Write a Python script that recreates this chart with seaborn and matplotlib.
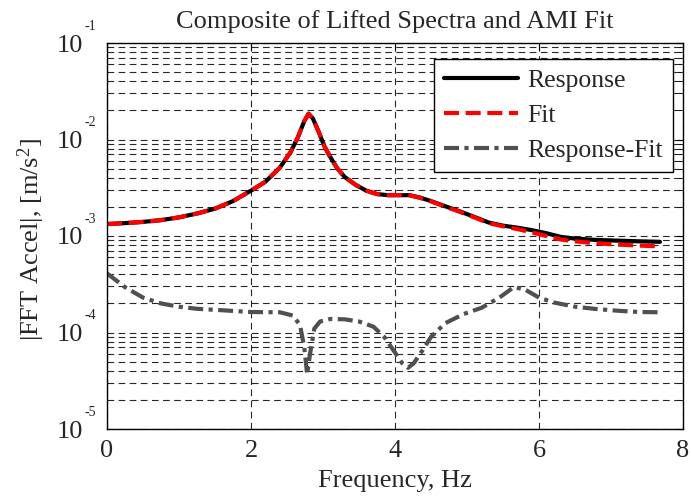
import numpy as np
import pandas as pd
import matplotlib
matplotlib.use("Agg")
import matplotlib.pyplot as plt
import seaborn as sns
from matplotlib.ticker import LogLocator, FixedLocator, FixedFormatter

# ---- data ----
freq = [0.0, 0.25, 0.5, 0.75, 1.0, 1.25, 1.5, 1.75, 2.0, 2.2, 2.4, 2.55, 2.65,
        2.74, 2.8, 2.86, 2.94, 3.02, 3.1, 3.2, 3.3, 3.45, 3.6, 3.75, 3.9, 4.05,
        4.2, 4.35, 4.5, 4.7, 4.9, 5.1, 5.3, 5.5, 5.7, 5.9, 6.1, 6.3, 6.5, 6.8,
        7.1, 7.4, 7.68]
response = [1.33e-3, 1.36e-3, 1.40e-3, 1.46e-3, 1.56e-3, 1.71e-3, 1.92e-3, 2.3e-3,
            2.95e-3, 3.65e-3, 5.1e-3, 7.4e-3, 1.05e-2, 1.55e-2, 1.85e-2, 1.65e-2,
            1.2e-2, 8.5e-3, 6.6e-3, 5.0e-3, 4.1e-3, 3.4e-3, 2.95e-3, 2.72e-3,
            2.65e-3, 2.65e-3, 2.65e-3, 2.5e-3, 2.3e-3, 2.03e-3, 1.8e-3, 1.58e-3,
            1.38e-3, 1.28e-3, 1.22e-3, 1.15e-3, 1.07e-3, 9.8e-4, 9.4e-4, 9.1e-4,
            8.95e-4, 8.8e-4, 8.7e-4]
fit = [1.33e-3, 1.36e-3, 1.40e-3, 1.46e-3, 1.56e-3, 1.71e-3, 1.92e-3, 2.3e-3,
       2.95e-3, 3.65e-3, 5.1e-3, 7.4e-3, 1.05e-2, 1.55e-2, 1.85e-2, 1.65e-2,
       1.2e-2, 8.5e-3, 6.6e-3, 5.0e-3, 4.1e-3, 3.4e-3, 2.95e-3, 2.72e-3,
       2.65e-3, 2.65e-3, 2.64e-3, 2.48e-3, 2.28e-3, 2.01e-3, 1.78e-3, 1.56e-3,
       1.36e-3, 1.26e-3, 1.18e-3, 1.09e-3, 1.0e-3, 9.2e-4, 8.8e-4, 8.4e-4,
       8.15e-4, 7.95e-4, 7.8e-4]
resid_freq = [0.0, 0.25, 0.5, 0.75, 1.0, 1.25, 1.6, 2.0, 2.4, 2.58, 2.68, 2.74,
              2.78, 2.82, 2.88, 2.96, 3.1, 3.3, 3.5, 3.7, 3.85, 4.0, 4.1, 4.18,
              4.26, 4.38, 4.5, 4.7, 4.95, 5.2, 5.45, 5.65, 5.8, 6.0, 6.2, 6.5,
              6.8, 7.1, 7.4, 7.68]
resid = [4.1e-4, 2.95e-4, 2.3e-4, 2.0e-4, 1.85e-4, 1.76e-4, 1.7e-4, 1.63e-4,
         1.62e-4, 1.5e-4, 1.2e-4, 7.0e-5, 3.7e-5, 6.0e-5, 1.1e-4, 1.3e-4,
         1.38e-4, 1.37e-4, 1.3e-4, 1.15e-4, 9.0e-5, 6.2e-5, 4.8e-5, 4.3e-5,
         4.8e-5, 6.5e-5, 9.0e-5, 1.25e-4, 1.55e-4, 1.8e-4, 2.3e-4, 2.95e-4,
         2.8e-4, 2.3e-4, 2.05e-4, 1.85e-4, 1.75e-4, 1.68e-4, 1.63e-4, 1.62e-4]

title = "Composite of Lifted Spectra and AMI Fit"
xlabel = "Frequency, Hz"
ylabel = r"|FFT Accel|, [m/s$\mathregular{^2}$]"
xticks = [0, 2, 4, 6, 8]
ytick_exponents = [-5, -4, -3, -2, -1]

sns.set_style("white")
plt.rcParams["font.family"] = ["Liberation Serif", "DejaVu Serif"]
plt.rcParams["mathtext.fontset"] = "custom"
plt.rcParams["mathtext.rm"] = "Liberation Serif"
plt.rcParams["mathtext.it"] = "Liberation Serif:italic"

FS = 19

fig = plt.figure(figsize=(6.91, 4.97), dpi=100)
ax = fig.add_axes([107/691, 1-429/497, (683-107)/691, (429-43)/497])

df_main = pd.DataFrame({"f": freq, "Response": response, "Fit": fit})
df_res = pd.DataFrame({"f": resid_freq, "Response-Fit": resid})

sns.lineplot(data=df_main, x="f", y="Response", ax=ax, color="black", lw=3.0,
             label="Response")
sns.lineplot(data=df_main, x="f", y="Fit", ax=ax, color="#ff0000", lw=3.0,
             label="Fit")
ax.lines[-1].set_dashes([3.6, 1.6])
sns.lineplot(data=df_res, x="f", y="Response-Fit", ax=ax, color="#505050",
             lw=3.0, label="Response-Fit")
ax.lines[-1].set_dashes([3.6, 1.3, 1.0, 1.3])

ax.set_yscale("log")
ax.xaxis.set_major_locator(FixedLocator(xticks))
ax.yaxis.set_major_locator(FixedLocator([10.0**e for e in ytick_exponents]))
ax.yaxis.set_major_formatter(FixedFormatter(["10"] * len(ytick_exponents)))
ax.yaxis.set_minor_locator(LogLocator(base=10, subs=np.arange(2, 10), numticks=20))
ax.set_xlim(0, 8)
ax.set_ylim(1e-5, 1e-1)

grid_kw = dict(color="black", lw=0.8, linestyle=(0, (6, 4)), alpha=0.85)
ax.grid(True, which="major", axis="both", **grid_kw)
ax.grid(True, which="minor", axis="y", **grid_kw)
ax.set_axisbelow(True)

ax.tick_params(axis="both", which="both", direction="in", top=True, right=True,
               labelsize=FS, color="black")
ax.tick_params(axis="both", which="major", length=5, width=0.8)
ax.tick_params(axis="x", which="major", pad=8)
ax.tick_params(axis="y", which="major", pad=17)
ax.tick_params(axis="y", which="minor", length=3, width=0.6)
for s in ax.spines.values():
    s.set_color("black")
    s.set_linewidth(1.0)

# exponents of the y tick labels (10^e), drawn as small raised text
for e in ytick_exponents:
    ax.annotate(str(e), xy=(0, 10.0**e), xycoords=("axes fraction", "data"),
                xytext=(-16, 12), textcoords="offset points", fontsize=10,
                ha="left", va="center", annotation_clip=False)

ax.set_title(title, fontsize=FS, pad=11)
ax.set_xlabel(xlabel, fontsize=FS, labelpad=6)
ax.set_ylabel(ylabel, fontsize=FS)
ax.yaxis.set_label_coords(-0.105, 0.49)

leg = ax.legend(loc="upper right", fontsize=18.5, frameon=True, fancybox=False,
                edgecolor="black", framealpha=1, handlelength=2.9,
                borderpad=0.4, labelspacing=0.45, handletextpad=0.35,
                borderaxespad=0, bbox_to_anchor=(0.983, 0.958))
leg.get_frame().set_linewidth(1.0)

fig.savefig("out.png", dpi=100)
